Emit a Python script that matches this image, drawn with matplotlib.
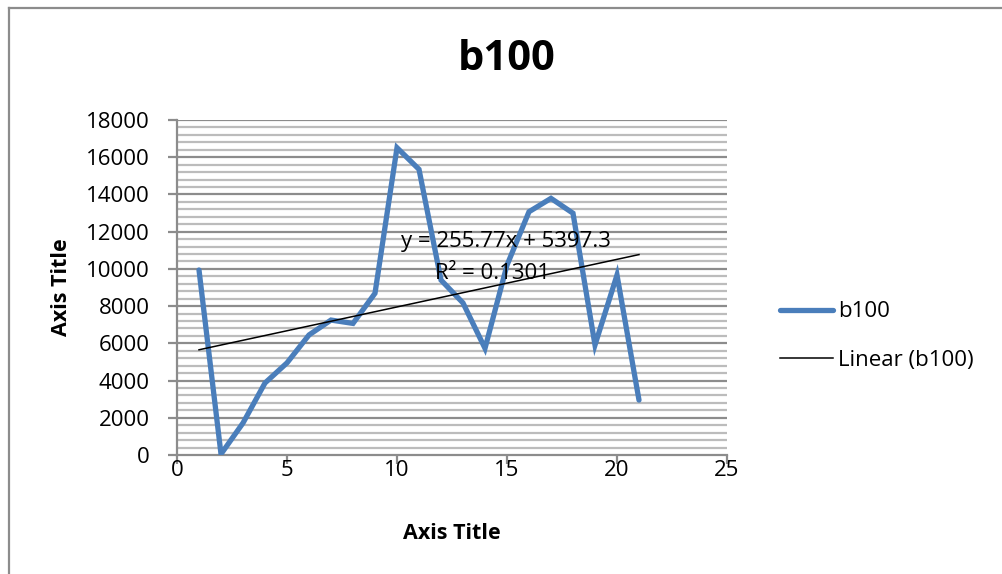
import numpy as np
import matplotlib
matplotlib.use("Agg")
import matplotlib.pyplot as plt
from matplotlib.lines import Line2D

plt.rcParams['font.family'] = ['Open Sans', 'DejaVu Sans']

# Series data
x_values = list(range(1, 22))
b100 = [9940, 50, 1720, 3870, 4950, 6450, 7250, 7070, 8690, 16510, 15350,
        9400, 8170, 5730, 10200, 13070, 13790, 12990, 5910, 9670, 2950]

# Linear trendline as reported
slope = 255.77
intercept = 5397.3
r_squared = 0.1301

x_ticks = [0, 5, 10, 15, 20, 25]
y_ticks = list(range(0, 18001, 2000))

fig = plt.figure(figsize=(10.02, 5.74), dpi=100)
ax = fig.add_axes([177 / 1002, 1 - 455 / 574, 550 / 1002, 335 / 574])

# Gridlines: minor every 400, major every 2000
for v in np.arange(0, 18001, 400):
    if v % 2000 == 0:
        continue
    ax.axhline(v, color='#bcbcbc', lw=1.6, zorder=1)
for v in y_ticks[1:]:
    ax.axhline(v, color='#8c8c8c', lw=1.6, zorder=1)

ax.plot(x_values, b100, color='#4a7ebb', lw=3.8, solid_capstyle='round',
        solid_joinstyle='miter', zorder=3, label='b100')

xt = np.array([x_values[0], x_values[-1]])
ax.plot(xt, slope * xt + intercept, color='black', lw=1.1, zorder=4,
        label='Linear (b100)')

ax.text(14.95, 11445, f"y = {slope}x + {intercept}", fontsize=16,
        ha='center', va='center', zorder=5)
ax.text(14.32, 9779, f"R² = {r_squared}", fontsize=16,
        ha='center', va='center', zorder=5)

ax.set_xlim(0, 25)
ax.set_ylim(0, 18000)
ax.set_xticks(x_ticks)
ax.set_yticks(y_ticks)
ax.tick_params(axis='both', labelsize=16, length=6.5, width=1.6,
               color='#8c8c8c', direction='out')
ax.tick_params(axis='x', pad=-3)
ax.tick_params(axis='y', pad=13)
for s in ['top', 'right']:
    ax.spines[s].set_visible(False)
for s in ['left', 'bottom']:
    ax.spines[s].set_color('#8c8c8c')
    ax.spines[s].set_linewidth(1.6)

ax.set_xlabel('Axis Title', fontsize=15.5, fontweight='bold', labelpad=30)
ax.set_ylabel('Axis Title', fontsize=15.5, fontweight='bold', labelpad=10)

fig.text(507 / 1002, 1 - 59 / 574, 'b100', fontsize=30, fontweight='bold',
         ha='center', va='center')

handles = [Line2D([], [], color='#4a7ebb', lw=3.8, solid_capstyle='round'),
           Line2D([], [], color='black', lw=1.1)]
fig.legend(handles, ['b100', 'Linear (b100)'], loc='center left',
           bbox_to_anchor=(780 / 1002, 1 - 336 / 574), frameon=False,
           borderaxespad=0, borderpad=0,
           fontsize=16, handlelength=2.4, handletextpad=0.22, labelspacing=1.22)

# Outer chart border
fig.add_artist(Line2D([9 / 1002, 9 / 1002], [0, 1 - 7.5 / 574],
                      transform=fig.transFigure, color='#8c8c8c', lw=1.6))
fig.add_artist(Line2D([9 / 1002, 1], [1 - 7.5 / 574, 1 - 7.5 / 574],
                      transform=fig.transFigure, color='#8c8c8c', lw=1.6))

fig.savefig('out.png', dpi=100)
